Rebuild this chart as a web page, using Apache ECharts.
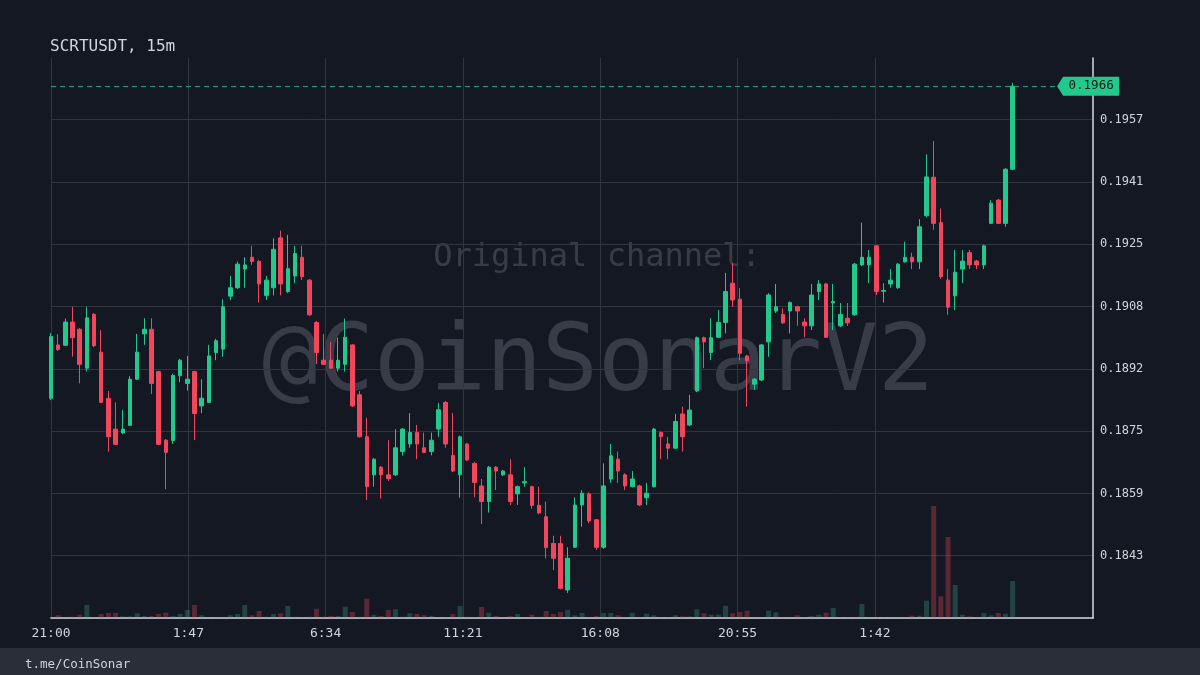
<!DOCTYPE html>
<html>
<head>
<meta charset="utf-8">
<script src="https://cdn.jsdelivr.net/npm/echarts@6/dist/echarts.min.js"></script>
<style>
html,body{margin:0;padding:0;background:#141822;}
#chart{width:1200px;height:675px;}
</style>
</head>
<body>
<div id="chart"></div>
<script>
const symbolTitle = 'SCRTUSDT, 15m';
const footerText = 't.me/CoinSonar';
const timeLabels = ['21:00', '1:47', '6:34', '11:21', '16:08', '20:55', '1:42'];

const opens = [
  0.18841,0.18981,0.18980,0.19041,0.19022,0.18920,0.19061,0.18962,0.18841,0.18760,
  0.18750,0.18770,0.18891,0.19010,0.19022,0.18911,0.18731,0.18730,0.18900,0.18880,
  0.18911,0.18821,0.18830,0.18961,0.18970,0.19109,0.19131,0.19180,0.19211,0.19200,
  0.19111,0.19131,0.19262,0.19121,0.19162,0.19211,0.19151,0.19040,0.18941,0.18941,
  0.18920,0.18930,0.18981,0.18850,0.18740,0.18640,0.18660,0.18640,0.18640,0.18701,
  0.18721,0.18751,0.18711,0.18701,0.18760,0.18830,0.18691,0.18640,0.18721,0.18670,
  0.18611,0.18570,0.18660,0.18640,0.18640,0.18590,0.18619,0.18609,0.18560,0.18530,
  0.18460,0.18460,0.18338,0.18450,0.18561,0.18590,0.18522,0.18450,0.18629,0.18681,
  0.18640,0.18609,0.18611,0.18580,0.18609,0.18751,0.18721,0.18710,0.18800,0.18771,
  0.18860,0.19000,0.18961,0.19001,0.19040,0.19143,0.19101,0.18952,0.18878,0.18889,
  0.18989,0.19070,0.19061,0.19070,0.19081,0.19041,0.19031,0.19121,0.19141,0.19091,
  0.19031,0.19051,0.19060,0.19191,0.19191,0.19241,0.19122,0.19141,0.19131,0.19199,
  0.19211,0.19199,0.19320,0.19421,0.19302,0.19151,0.19110,0.19180,0.19223,0.19201,
  0.19191,0.19300,0.19361,0.19300,0.19442
];
const closes = [
  0.19003,0.18969,0.19041,0.19000,0.18930,0.19052,0.18979,0.18830,0.18740,0.18720,
  0.18760,0.18891,0.18962,0.19022,0.18880,0.18720,0.18699,0.18901,0.18941,0.18891,
  0.18801,0.18841,0.18952,0.18992,0.19081,0.19131,0.19193,0.19191,0.19200,0.19141,
  0.19151,0.19232,0.19141,0.19181,0.19221,0.19160,0.19060,0.18961,0.18930,0.18920,
  0.18941,0.19001,0.18821,0.18740,0.18609,0.18681,0.18640,0.18630,0.18711,0.18760,
  0.18751,0.18721,0.18699,0.18731,0.18811,0.18721,0.18650,0.18740,0.18679,0.18620,
  0.18570,0.18660,0.18650,0.18650,0.18570,0.18609,0.18622,0.18560,0.18540,0.18449,
  0.18421,0.18342,0.18421,0.18561,0.18592,0.18519,0.18450,0.18611,0.18690,0.18650,
  0.18611,0.18629,0.18561,0.18592,0.18760,0.18740,0.18710,0.18780,0.18740,0.18810,
  0.19000,0.18989,0.19000,0.19040,0.19121,0.19099,0.18959,0.18939,0.18891,0.18981,
  0.19112,0.19081,0.19039,0.19092,0.19070,0.19031,0.19112,0.19141,0.19001,0.19095,
  0.19061,0.19039,0.19193,0.19211,0.19211,0.19121,0.19124,0.19151,0.19193,0.19211,
  0.19199,0.19291,0.19422,0.19300,0.19160,0.19080,0.19172,0.19201,0.19191,0.19191,
  0.19241,0.19353,0.19300,0.19442,0.19660
];
const lows = [
  0.18836,0.18965,0.18978,0.18950,0.18880,0.18911,0.18975,0.18829,0.18701,0.18718,
  0.18747,0.18768,0.18889,0.18981,0.18852,0.18718,0.18602,0.18721,0.18883,0.18861,
  0.18731,0.18802,0.18829,0.18941,0.18950,0.19099,0.19128,0.19131,0.19191,0.19092,
  0.19099,0.19111,0.19111,0.19117,0.19143,0.19151,0.19057,0.18931,0.18928,0.18918,
  0.18911,0.18911,0.18818,0.18738,0.18574,0.18609,0.18578,0.18624,0.18637,0.18691,
  0.18711,0.18681,0.18697,0.18691,0.18740,0.18711,0.18647,0.18580,0.18676,0.18581,
  0.18511,0.18541,0.18600,0.18637,0.18561,0.18561,0.18609,0.18551,0.18537,0.18421,
  0.18390,0.18339,0.18330,0.18448,0.18504,0.18513,0.18443,0.18446,0.18619,0.18619,
  0.18600,0.18607,0.18558,0.18561,0.18607,0.18681,0.18681,0.18708,0.18701,0.18768,
  0.18857,0.18920,0.18941,0.18999,0.19011,0.19081,0.18941,0.18819,0.18863,0.18886,
  0.18950,0.19065,0.19036,0.19011,0.19031,0.19001,0.19020,0.19099,0.18999,0.19020,
  0.19028,0.19031,0.19057,0.19188,0.19143,0.19112,0.19092,0.19131,0.19128,0.19197,
  0.19180,0.19180,0.19316,0.19283,0.19154,0.19060,0.19073,0.19143,0.19180,0.19180,
  0.19180,0.19298,0.19298,0.19291,0.19440
];
const highs = [
  0.19012,0.19009,0.19050,0.19081,0.19025,0.19081,0.19065,0.19020,0.18860,0.18830,
  0.18810,0.18899,0.19010,0.19051,0.19051,0.18913,0.18734,0.18905,0.18944,0.18952,
  0.18913,0.18891,0.18981,0.18997,0.19101,0.19162,0.19200,0.19211,0.19241,0.19204,
  0.19162,0.19261,0.19281,0.19270,0.19241,0.19241,0.19154,0.19044,0.19010,0.18989,
  0.19000,0.19050,0.18983,0.18860,0.18790,0.18684,0.18663,0.18731,0.18760,0.18763,
  0.18802,0.18771,0.18751,0.18751,0.18829,0.18834,0.18802,0.18743,0.18724,0.18674,
  0.18629,0.18663,0.18663,0.18653,0.18681,0.18612,0.18660,0.18612,0.18609,0.18570,
  0.18480,0.18480,0.18450,0.18581,0.18600,0.18594,0.18524,0.18670,0.18721,0.18701,
  0.18644,0.18650,0.18614,0.18619,0.18763,0.18754,0.18740,0.18800,0.18819,0.18850,
  0.19003,0.19003,0.19051,0.19073,0.19170,0.19195,0.19130,0.18955,0.18894,0.18983,
  0.19117,0.19141,0.19077,0.19095,0.19084,0.19051,0.19141,0.19151,0.19144,0.19141,
  0.19091,0.19091,0.19196,0.19302,0.19230,0.19243,0.19143,0.19180,0.19196,0.19252,
  0.19223,0.19311,0.19481,0.19516,0.19339,0.19180,0.19230,0.19230,0.19230,0.19204,
  0.19244,0.19361,0.19364,0.19445,0.19669
];
// volume (relative units, thousands)
const volumes = [
  0.5,2.7,0.7,1.3,3.3,13,0.7,4,5,5,
  1.7,1.7,4.7,2,2,4,5.3,2,4,8,
  13,2.7,0.7,0.7,0.7,2.7,4,13,2.7,7,
  1.3,4,4.7,12,1.3,0.7,1.3,9.3,1.3,2,
  2,11.3,6,1.3,19.3,3.3,2,8,8.7,1.3,
  4.7,4,2.7,2,0.7,0.7,4,12,1.3,0.7,
  11,5.3,2,0.7,2,4,0.7,3.3,1.3,7,
  4,6,8.3,2.7,5,0.7,2,5,5,2.7,
  0.7,5,0.7,4.3,2.7,0.7,0.7,2.7,1.7,1.7,
  8.7,4.7,3.3,3.3,12.3,4.7,6,7.3,0.7,0.7,
  7.3,5.7,0.7,0.7,2.7,0.7,2,3.3,5.3,10,
  0.7,0.7,0.7,14,0.7,0.7,0.7,0.7,0.7,0.7,
  2.3,2.3,17.3,112,21.7,81,33,3.3,1.7,0.7,
  5,2.7,5,4.3,37
];

const MONO = "'DejaVu Sans Mono', monospace";
const UP = '#22c98d';
const DOWN = '#f2465d';
const TEXT = '#d1d4dc';
const GRIDC = '#30353f';
const AXISC = '#d6d9e0';

const Y_MIN = 0.182643, Y_MAX = 0.19734, Y_STEP = 0.001635;
const X_STEP = 287 / 15, X_MAX = 145.2;
const VOL_MAX = 560;

const candles = opens.map((o, i) => [i, o, closes[i], lows[i], highs[i]]);
const volData = volumes.map((v, i) => ({
  value: [i, v],
  itemStyle: { color: closes[i] >= opens[i] ? 'rgba(70,170,145,0.30)' : 'rgba(242,70,93,0.32)' }
}));
const lastIdx = closes.length - 1;
const last = closes[lastIdx];
const tagX = lastIdx + 6.2;

const chart = echarts.init(document.getElementById('chart'), null, { renderer: 'canvas' });
chart.setOption({
  backgroundColor: '#141822',
  animation: false,
  grid: { left: 51, right: 107, top: 58, bottom: 57 },
  xAxis: {
    type: 'value', min: 0, max: X_MAX, interval: X_STEP,
    axisLine: { show: true, onZero: false, lineStyle: { color: AXISC, width: 1.5 } },
    axisTick: { show: false },
    axisLabel: {
      color: TEXT, fontFamily: MONO, fontSize: 13, margin: 9, showMaxLabel: false,
      formatter: v => { const k = Math.round(v / X_STEP); return k < timeLabels.length ? timeLabels[k] : ''; }
    },
    splitLine: { show: true, showMaxLine: false,
      lineStyle: { color: [GRIDC, GRIDC, GRIDC, GRIDC, GRIDC, GRIDC, GRIDC, 'rgba(0,0,0,0)'], width: 1 } }
  },
  yAxis: [{
    type: 'value', position: 'right', min: Y_MIN, max: Y_MAX, interval: Y_STEP,
    axisLine: { show: true, onZero: false, lineStyle: { color: AXISC, width: 1.5 } },
    axisTick: { show: false },
    axisLabel: {
      color: TEXT, fontFamily: MONO, fontSize: 12, margin: 7,
      formatter: v => (v < Y_MIN + Y_STEP / 2 || v > Y_MAX - Y_STEP / 2) ? '' : v.toFixed(4)
    },
    splitLine: { show: true, showMinLine: false, showMaxLine: false, lineStyle: { color: GRIDC, width: 1 } }
  }, {
    type: 'value', position: 'right', min: 0, max: VOL_MAX, show: false,
    axisLine: { show: false, onZero: false }, axisTick: { show: false }, axisLabel: { show: false }, splitLine: { show: false }
  }],
  graphic: [
    { type: 'text', x: 597, y: 258, z: 0, silent: true,
      style: { text: 'Original channel:', font: "32px 'DejaVu Sans Mono'", fill: 'rgba(160,166,182,0.26)', align: 'center', verticalAlign: 'middle' } },
    { type: 'text', x: 598, y: 366, z: 0, silent: true,
      style: { text: '@CoinSonarV2', font: "93px 'DejaVu Sans Mono'", fill: 'rgba(160,166,182,0.26)', align: 'center', verticalAlign: 'middle' } },
    { type: 'text', x: 50, y: 47, silent: true,
      style: { text: symbolTitle, font: "16px 'DejaVu Sans Mono'", fill: TEXT, align: 'left', verticalAlign: 'middle' } },
    { type: 'rect', x: 0, y: 648, silent: true, shape: { width: 1200, height: 27 }, style: { fill: '#2a2e39' } },
    { type: 'text', x: 25, y: 664.5, silent: true, z: 10,
      style: { text: footerText, font: "12.5px 'DejaVu Sans Mono'", fill: TEXT, align: 'left', verticalAlign: 'middle' } }
  ],
  series: [
    {
      type: 'bar', name: 'Volume', xAxisIndex: 0, yAxisIndex: 1,
      barWidth: 5, data: volData, silent: true, clip: true
    },
    {
      type: 'candlestick', name: 'SCRTUSDT', xAxisIndex: 0, yAxisIndex: 0,
      encode: { x: 0, y: [1, 2, 3, 4] },
      barWidth: 4, clip: true, silent: true,
      itemStyle: { color: UP, color0: DOWN, borderColor: UP, borderColor0: DOWN, borderWidth: 1 },
      data: candles,
      markLine: {
        silent: true, symbol: ['none', 'none'], animation: false,
        label: { show: false },
        lineStyle: { color: '#1f9e78', type: [5, 4], width: 1 },
        data: [[{ coord: [0, last] }, { coord: [tagX, last] }]]
      },
      markPoint: {
        silent: true, animation: false,
        symbol: 'path://M0,9.5 L6,0 L62,0 L62,19 L6,19 Z',
        symbolSize: [62, 19], symbolOffset: [31, 0],
        itemStyle: { color: UP },
        label: { show: true, position: 'inside', offset: [3, 0], color: '#0d1b17', fontFamily: MONO, fontSize: 12.5,
          formatter: p => Number(p.value).toFixed(4) },
        data: [{ coord: [tagX, last], value: last }]
      }
    }
  ]
});
</script>
</body>
</html>
